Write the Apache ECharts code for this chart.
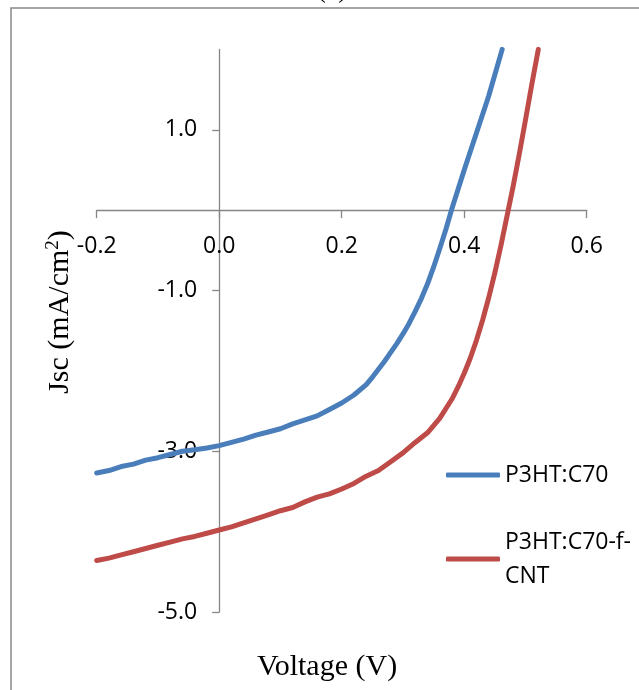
<!DOCTYPE html>
<html>
<head>
<meta charset="utf-8">
<script src="https://cdn.jsdelivr.net/npm/echarts@6/dist/echarts.min.js"></script>
<style>
  html, body { margin: 0; padding: 0; background: #fff; }
  #chart { width: 639px; height: 690px; }
</style>
</head>
<body>
<div id="chart"></div>
<script>
// J–V curves (voltage in V, current density in mA/cm²)
const voltageC70 = [-0.20, -0.18, -0.16, -0.14, -0.12, -0.10, -0.08, -0.06, -0.04, -0.02,
  0.00, 0.02, 0.04, 0.06, 0.08, 0.10, 0.12, 0.14, 0.16, 0.18, 0.20, 0.22, 0.24, 0.25, 0.26,
  0.27, 0.28, 0.29, 0.30, 0.31, 0.32, 0.33, 0.34, 0.35, 0.36, 0.37, 0.38, 0.40, 0.42, 0.44, 0.462];
const jscC70 = [-3.27, -3.24, -3.19, -3.16, -3.11, -3.08, -3.04, -3.00, -2.98, -2.96,
  -2.93, -2.89, -2.85, -2.80, -2.76, -2.72, -2.66, -2.61, -2.56, -2.48, -2.40, -2.30, -2.17, -2.08, -1.98,
  -1.88, -1.77, -1.66, -1.54, -1.41, -1.26, -1.10, -0.92, -0.71, -0.48, -0.24, 0.02, 0.50, 0.96, 1.42, 2.00];

const voltageCNT = [-0.20, -0.18, -0.16, -0.14, -0.12, -0.10, -0.08, -0.06, -0.04, -0.02,
  0.00, 0.02, 0.04, 0.06, 0.08, 0.10, 0.12, 0.14, 0.16, 0.18, 0.20, 0.22, 0.24, 0.26,
  0.28, 0.30, 0.32, 0.34, 0.36, 0.38, 0.39, 0.40, 0.41, 0.42, 0.43, 0.44, 0.45, 0.46, 0.47,
  0.48, 0.49, 0.50, 0.51, 0.521];
const jscCNT = [-4.36, -4.33, -4.29, -4.25, -4.21, -4.17, -4.13, -4.09, -4.06, -4.02,
  -3.98, -3.94, -3.89, -3.84, -3.79, -3.74, -3.70, -3.63, -3.57, -3.53, -3.47, -3.40, -3.31, -3.24,
  -3.13, -3.02, -2.89, -2.77, -2.59, -2.35, -2.20, -2.03, -1.84, -1.62, -1.37, -1.09, -0.78, -0.44, -0.07,
  0.30, 0.70, 1.12, 1.55, 2.00];

const seriesNames = ['P3HT:C70', 'P3HT:C70-f-CNT'];
const xTicks = [-0.2, 0.0, 0.2, 0.4, 0.6];
const yTicks = [-5, -3, -1, 1];

const pairs = (xs, ys) => xs.map((x, i) => [x, ys[i]]);

const axisGray = '#868686';
const sansFont = '"Open Sans", "Liberation Sans", sans-serif';
const serifFont = '"Liberation Serif", "DejaVu Serif", serif';

const gridBox = { left: 96.7, right: 52.3, top: 49.4, bottom: 78 };

const chart = echarts.init(document.getElementById('chart'), null, { renderer: 'canvas' });

chart.setOption({
  animation: false,
  backgroundColor: '#ffffff',
  grid: Object.assign({ containLabel: false, outerBoundsMode: 'none' }, gridBox),
  xAxis: {
    type: 'value',
    position: 'bottom',
    min: xTicks[0],
    max: xTicks[xTicks.length - 1],
    interval: 0.2,
    axisLine: { onZero: false, lineStyle: { color: axisGray, width: 1.3 } },
    axisTick: { show: true, length: 8, lineStyle: { color: axisGray, width: 1.3 } },
    axisLabel: {
      margin: 25,
      color: '#000',
      fontFamily: sansFont,
      fontSize: 23,
      formatter: v => v.toFixed(1)
    },
    splitLine: { show: false }
  },
  yAxis: {
    type: 'value',
    position: 'left',
    min: -5,
    max: 2,
    interval: 1,
    axisLine: { onZero: false, lineStyle: { color: axisGray, width: 1.3 } },
    axisTick: {
      show: true, length: 7,
      customValues: yTicks,
      lineStyle: { color: axisGray, width: 1.3 }
    },
    axisLabel: {
      margin: 22,
      color: '#000',
      fontFamily: sansFont,
      fontSize: 23,
      customValues: yTicks,
      formatter: v => v.toFixed(1)
    },
    splitLine: { show: false }
  },
  legend: [
    {
      data: [seriesNames[0]],
      orient: 'vertical',
      left: 446, top: 458,
      padding: 0,
      icon: 'roundRect',
      itemWidth: 54, itemHeight: 5,
      textStyle: { fontFamily: sansFont, fontSize: 23, color: '#000', lineHeight: 34 }
    },
    {
      data: [seriesNames[1]],
      orient: 'vertical',
      left: 446, top: 508,
      padding: 0,
      icon: 'roundRect',
      itemWidth: 54, itemHeight: 5,
      formatter: name => name.replace('-f-', '-f-\n'),
      textStyle: {
        fontFamily: sansFont, fontSize: 23, color: '#000', lineHeight: 34,
        padding: [34, 0, 0, 0]
      }
    }
  ],
  series: [
    {
      name: seriesNames[0],
      type: 'line',
      data: pairs(voltageC70, jscC70),
      showSymbol: false,
      symbol: 'none',
      color: '#4A7EBB',
      lineStyle: { width: 5, color: '#4A7EBB', cap: 'round', join: 'round' },
      z: 3
    },
    {
      name: seriesNames[1],
      type: 'line',
      data: pairs(voltageCNT, jscCNT),
      showSymbol: false,
      symbol: 'none',
      color: '#BE4B48',
      lineStyle: { width: 5, color: '#BE4B48', cap: 'round', join: 'round' },
      z: 2
    }
  ],
  graphic: [
    {
      type: 'rect',
      silent: true,
      shape: { x: 11, y: 8, width: 700, height: 720 },
      style: { fill: 'none', stroke: '#888888', lineWidth: 1.5 },
      z: -1
    },
    {
      type: 'text',
      x: 332, y: -10,
      silent: true,
      style: {
        text: '(a)',
        fontFamily: serifFont, fontSize: 28, fill: '#000',
        align: 'center', verticalAlign: 'middle'
      }
    },
    {
      type: 'text',
      x: 60, y: 312,
      rotation: Math.PI / 2,
      silent: true,
      style: {
        text: '{a|Jsc (mA/cm}{s|2}{a|)}',
        align: 'center', verticalAlign: 'middle',
        rich: {
          a: { fontFamily: serifFont, fontSize: 30, fill: '#000', lineHeight: 34 },
          s: { fontFamily: serifFont, fontSize: 19, fill: '#000', lineHeight: 34, padding: [0, 0, 14, 0] }
        }
      }
    },
    {
      type: 'text',
      x: 327, y: 667,
      silent: true,
      style: {
        text: 'Voltage (V)',
        fontFamily: serifFont, fontSize: 30, fill: '#000',
        align: 'center', verticalAlign: 'middle'
      }
    }
  ]
});

// Move both axes so they cross at the origin (0, 0), labels included.
const origin = chart.convertToPixel({ gridIndex: 0 }, [0, 0]);
const plotBottom = chart.getHeight() - gridBox.bottom;
chart.setOption({
  xAxis: { offset: -(plotBottom - origin[1]) },
  yAxis: { offset: -(origin[0] - gridBox.left) }
});
</script>
</body>
</html>
